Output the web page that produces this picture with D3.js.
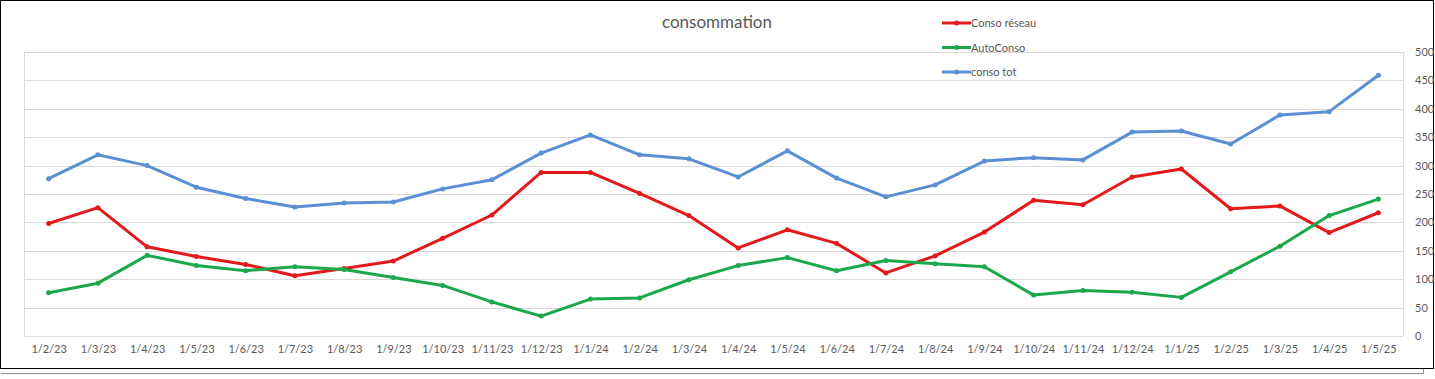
<!DOCTYPE html>
<html>
<head>
<meta charset="utf-8">
<script src="https://cdn.jsdelivr.net/npm/d3@7"></script>
<style>
  body { margin: 0; background: #fff; }
  svg { display: block; font-family: Lato, "Open Sans", sans-serif; }
</style>
</head>
<body>
<div id="chart"></div>
<script>
// mois (axe X)
const categories = ["1/2/23", "1/3/23", "1/4/23", "1/5/23", "1/6/23", "1/7/23", "1/8/23", "1/9/23",
  "1/10/23", "1/11/23", "1/12/23", "1/1/24", "1/2/24", "1/3/24", "1/4/24", "1/5/24", "1/6/24",
  "1/7/24", "1/8/24", "1/9/24", "1/10/24", "1/11/24", "1/12/24", "1/1/25", "1/2/25", "1/3/25",
  "1/4/25", "1/5/25"];

// valeurs des séries
const consoReseau = [198, 226, 157, 140, 126, 106, 119, 132, 172, 213, 288, 288, 251, 212, 155, 187,
  163, 111, 141, 183, 239, 231, 280, 294, 224, 229, 182, 217];
const autoConso = [76, 93, 142, 124, 115, 122, 117, 103, 89, 60, 35, 65, 67, 99, 124, 138, 115, 133,
  127, 122, 72, 80, 77, 68, 113, 158, 212, 241];
const consoTot = [277, 319, 300, 262, 242, 227, 234, 236, 259, 275, 322, 354, 319, 312, 280, 326,
  278, 245, 266, 308, 314, 310, 359, 361, 338, 389, 395, 459];

// graduations de l'axe Y (à droite)
const yTicks = [0, 50, 100, 150, 200, 250, 300, 350, 400, 450, 500];

const seriesNames = ["Conso réseau", "AutoConso", "conso tot"];
const seriesColors = ["#e31a1c", "#1ba84a", "#5b8fd4"];

const width = 1435;
const height = 379;
const plotLeft = 24, plotRight = 1403, plotTop = 52, plotBottom = 336;

const svg = d3.select("#chart").append("svg")
  .attr("width", width)
  .attr("height", height);

// cadre du graphique + ombre grise
svg.append("path")
  .attr("d", "M1,373.5 H1423.5 V369")
  .attr("fill", "none")
  .attr("stroke", "#8c8c8c")
  .attr("stroke-width", 1);
svg.append("rect")
  .attr("x", 0.5).attr("y", 0.5)
  .attr("width", 1433).attr("height", 368)
  .attr("fill", "#fff")
  .attr("stroke", "#000")
  .attr("stroke-width", 1);

const xScale = d3.scalePoint()
  .domain(categories)
  .range([plotLeft, plotRight])
  .padding(0.5);

const yScale = d3.scaleLinear()
  .domain([0, 500])
  .range([plotBottom, plotTop]);

// grille horizontale
svg.append("g")
  .selectAll("line")
  .data(yTicks)
  .enter()
  .append("line")
  .attr("x1", plotLeft)
  .attr("x2", plotRight)
  .attr("y1", d => Math.round(yScale(d)) + 0.5)
  .attr("y2", d => Math.round(yScale(d)) + 0.5)
  .attr("stroke", "#d9d9d9")
  .attr("stroke-width", 1);

// bords verticaux de la zone de tracé
svg.append("line")
  .attr("x1", plotLeft + 0.5).attr("x2", plotLeft + 0.5)
  .attr("y1", yScale(500)).attr("y2", yScale(0))
  .attr("stroke", "#d9d9d9");
svg.append("line")
  .attr("x1", plotRight + 0.5).attr("x2", plotRight + 0.5)
  .attr("y1", yScale(500)).attr("y2", yScale(0))
  .attr("stroke", "#d9d9d9");

// axe X
const axisx = d3.axisBottom(xScale).tickSize(0).tickPadding(9);
const gx = svg.append("g")
  .attr("transform", "translate(0," + plotBottom + ")")
  .call(axisx);
gx.select(".domain").remove();
gx.selectAll("text")
  .attr("fill", "#595959")
  .style("font-size", "11px")
  .style("font-family", "Lato, sans-serif");

// axe Y à droite
const axisy = d3.axisRight(yScale).tickValues(yTicks).tickSize(0).tickPadding(12);
const gy = svg.append("g")
  .attr("transform", "translate(" + plotRight + ",0)")
  .call(axisy);
gy.select(".domain").remove();
gy.selectAll("text")
  .attr("fill", "#595959")
  .style("font-size", "11px")
  .style("font-family", "Lato, sans-serif");

// titre
svg.append("text")
  .attr("x", 717)
  .attr("y", 28)
  .attr("text-anchor", "middle")
  .attr("fill", "#595959")
  .style("font-size", "17px")
  .text("consommation");

// courbes
const allSeries = [consoReseau, autoConso, consoTot];
const line = d3.line()
  .x((d, i) => xScale(categories[i]))
  .y(d => yScale(d));

allSeries.forEach(function (values, k) {
  const g = svg.append("g");
  g.append("path")
    .datum(values)
    .attr("d", line)
    .attr("fill", "none")
    .attr("stroke", seriesColors[k])
    .attr("stroke-width", 3)
    .attr("stroke-linejoin", "round");
  g.selectAll("circle")
    .data(values)
    .enter()
    .append("circle")
    .attr("cx", (d, i) => xScale(categories[i]))
    .attr("cy", d => yScale(d))
    .attr("r", 2.5)
    .attr("fill", seriesColors[k]);
});

// légende
const legendY = [23, 47.5, 72];
seriesNames.forEach(function (name, k) {
  const lg = svg.append("g");
  lg.append("line")
    .attr("x1", 942).attr("x2", 971)
    .attr("y1", legendY[k]).attr("y2", legendY[k])
    .attr("stroke", seriesColors[k])
    .attr("stroke-width", 3);
  lg.append("circle")
    .attr("cx", 956.5).attr("cy", legendY[k])
    .attr("r", 2.5)
    .attr("fill", seriesColors[k]);
  lg.append("text")
    .attr("x", 971)
    .attr("y", legendY[k] + 4)
    .attr("fill", "#595959")
    .style("font-size", "11px")
    .text(name);
});
</script>
</body>
</html>
